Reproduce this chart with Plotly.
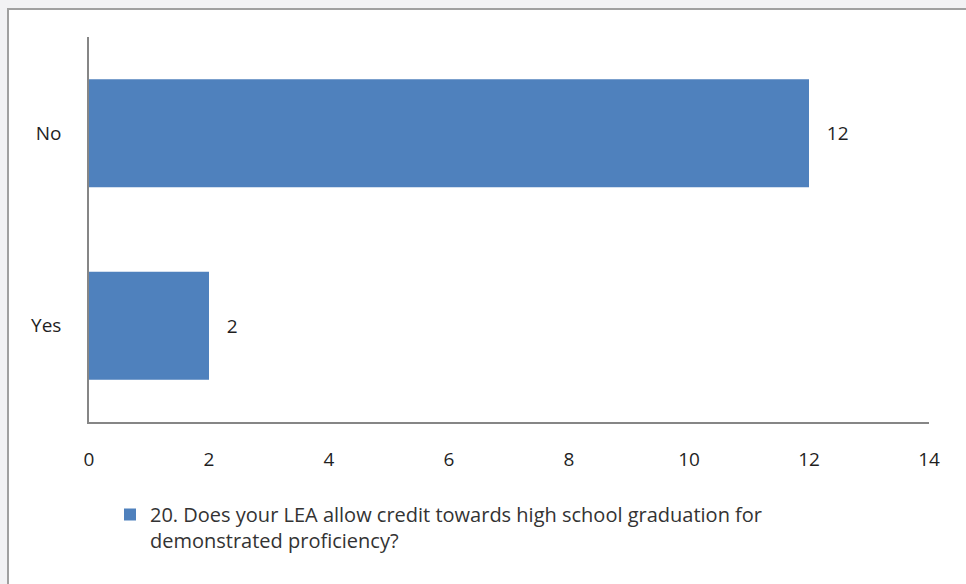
import plotly.graph_objects as go

# Survey question 20 responses
categories = ["Yes", "No"]
counts = [2, 12]
series_name = ("20. Does your LEA allow credit towards high school graduation for<br>"
               "demonstrated proficiency?")
x_ticks = [0, 2, 4, 6, 8, 10, 12, 14]

BAR_BLUE = "#4F81BD"
AXIS_GRAY = "#868686"
FONT = "'Open Sans', Lato, sans-serif"
W, H = 966, 584

fig = go.Figure()
fig.add_trace(go.Bar(
    y=categories,
    x=counts,
    orientation="h",
    name=series_name,
    marker=dict(color=BAR_BLUE, line=dict(width=0)),
    width=0.56,
    texttemplate="   %{x}",
    textposition="outside",
    textfont=dict(size=19, color="#1F1F1F", family=FONT),
    cliponaxis=False,
    showlegend=True,
))

# chart frame: gray rule along the top and left edges
fig.add_shape(type="rect", xref="paper", yref="paper",
              x0=-(89 - 8) / 840, x1=1 + 60 / 840,
              y0=-200 / 385, y1=1 + (37 - 9) / 385,
              line=dict(color="#A0A0A0", width=2), fillcolor="white",
              layer="below")

fig.update_layout(
    width=W, height=H,
    margin=dict(l=89, r=37, t=37, b=162, autoexpand=False),
    paper_bgcolor="#F2F2F4",
    plot_bgcolor="rgba(0,0,0,0)",
    font=dict(family=FONT, size=19, color="#1F1F1F"),
    bargap=0.44,
    xaxis=dict(
        range=[0, 14],
        tickvals=x_ticks,
        showgrid=False,
        zeroline=False,
        showline=True, linecolor=AXIS_GRAY, linewidth=1.5,
        ticks="", ticklabelstandoff=19,
        tickfont=dict(size=19, color="#1F1F1F"),
        fixedrange=True,
    ),
    yaxis=dict(
        categoryorder="array", categoryarray=categories,
        showgrid=False,
        zeroline=False,
        showline=True, linecolor=AXIS_GRAY, linewidth=1.5,
        ticks="", ticklabelstandoff=22,
        tickfont=dict(size=19, color="#1F1F1F"),
        fixedrange=True,
    ),
    legend=dict(
        xref="container", yref="container",
        x=110 / W, y=1 - 495 / H,
        xanchor="left", yanchor="top",
        valign="top",
        bgcolor="rgba(0,0,0,0)",
        font=dict(size=20, color="#333333", family=FONT),
        itemwidth=30,
    ),
)

fig.write_html("out.html")
